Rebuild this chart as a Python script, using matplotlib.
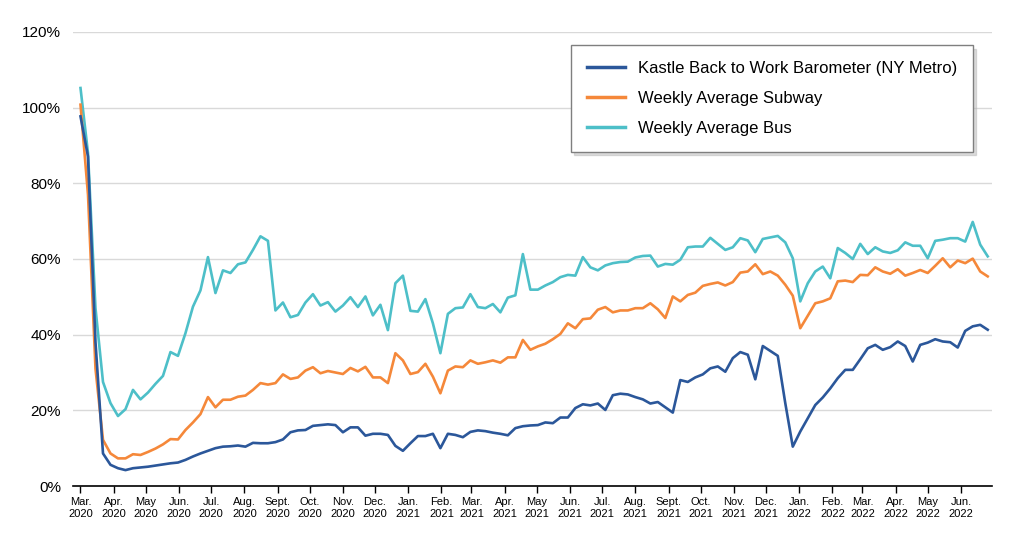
import pandas as pd
import matplotlib
matplotlib.use("Agg")
import matplotlib.pyplot as plt
from matplotlib.ticker import FuncFormatter

# weekly values, % of pre-pandemic level
kastle = [97.7, 87.1, 38, 8.6, 5.6, 4.7, 4.2, 4.7, 4.9, 5.1, 5.4, 5.7, 6.0, 6.2, 6.9, 7.8,
          8.6, 9.3, 10.0, 10.4, 10.5, 10.7, 10.4, 11.4, 11.3, 11.3, 11.6, 12.3, 14.2, 14.7,
          14.8, 15.9, 16.1, 16.3, 16.1, 14.2, 15.5, 15.5, 13.3, 13.8, 13.8, 13.5, 10.6, 9.3,
          11.3, 13.2, 13.2, 13.8, 10.0, 13.8, 13.5, 12.9, 14.3, 14.7, 14.5, 14.1, 13.8, 13.4,
          15.3, 15.8, 16.0, 16.1, 16.8, 16.6, 18.1, 18.1, 20.6, 21.6, 21.3, 21.8, 20.1, 24.0,
          24.4, 24.2, 23.5, 22.9, 21.8, 22.2, 20.8, 19.4, 28.0, 27.5, 28.7, 29.5, 31.1, 31.6,
          30.2, 33.8, 35.4, 34.7, 28.2, 37.0, 35.7, 34.4, 21.9, 10.4, 14.4, 17.9, 21.4, 23.4,
          25.8, 28.5, 30.7, 30.7, 33.5, 36.4, 37.3, 36.0, 36.7, 38.2, 37.0, 32.9, 37.3, 37.9,
          38.8, 38.2, 38.0, 36.6, 41.0, 42.2, 42.6, 41.3]
subway = [100.8, 77, 31, 12.2, 8.6, 7.3, 7.3, 8.4, 8.2, 9.0, 9.9, 11.0, 12.4, 12.3, 14.8, 16.8,
          19.0, 23.5, 20.8, 22.8, 22.8, 23.6, 23.9, 25.4, 27.2, 26.8, 27.2, 29.5, 28.3, 28.7,
          30.5, 31.4, 29.8, 30.4, 30.0, 29.6, 31.2, 30.3, 31.5, 28.7, 28.7, 27.2, 35.1, 33.2,
          29.6, 30.1, 32.3, 28.9, 24.5, 30.5, 31.6, 31.4, 33.2, 32.3, 32.7, 33.2, 32.6, 34.0,
          34.0, 38.6, 36.0, 36.9, 37.6, 38.8, 40.2, 43.0, 41.7, 44.1, 44.3, 46.6, 47.3, 45.9,
          46.4, 46.4, 47.0, 47.0, 48.3, 46.7, 44.4, 50.1, 48.8, 50.5, 51.1, 52.9, 53.4, 53.8,
          53.0, 53.9, 56.4, 56.7, 58.6, 56.0, 56.7, 55.6, 53.2, 50.3, 41.7, 45.0, 48.3, 48.8,
          49.6, 54.1, 54.3, 53.9, 55.8, 55.7, 57.8, 56.7, 56.1, 57.3, 55.6, 56.3, 57.1, 56.3,
          58.2, 60.2, 57.8, 59.6, 58.9, 60.1, 56.7, 55.4]
bus = [105.2, 88, 47, 27.5, 21.9, 18.5, 20.3, 25.4, 22.9, 24.7, 27.0, 29.1, 35.4, 34.4, 40.4,
       47.4, 51.7, 60.5, 51.0, 57.0, 56.3, 58.6, 59.1, 62.4, 66.0, 64.8, 46.4, 48.5, 44.6, 45.2,
       48.5, 50.7, 47.7, 48.6, 46.1, 47.7, 49.9, 47.3, 50.1, 45.1, 47.9, 41.2, 53.6, 55.6, 46.3,
       46.1, 49.4, 43.0, 35.1, 45.5, 47.0, 47.2, 50.7, 47.3, 47.0, 48.1, 45.9, 49.8, 50.4, 61.3,
       51.9, 51.9, 53.0, 53.9, 55.2, 55.8, 55.6, 60.5, 57.8, 57.0, 58.3, 58.9, 59.2, 59.3, 60.4,
       60.8, 60.9, 58.0, 58.7, 58.5, 59.8, 63.1, 63.3, 63.3, 65.6, 64.0, 62.4, 63.1, 65.5, 64.9,
       61.8, 65.3, 65.7, 66.1, 64.4, 60.2, 48.8, 53.6, 56.7, 58.0, 54.9, 62.9, 61.6, 60.0, 64.0,
       61.3, 63.1, 62.0, 61.6, 62.3, 64.4, 63.5, 63.5, 60.2, 64.8, 65.1, 65.5, 65.5, 64.6, 69.8,
       63.8, 60.7]

labels = ["Kastle Back to Work Barometer (NY Metro)", "Weekly Average Subway", "Weekly Average Bus"]
colors = ["#2b579a", "#f5883a", "#4dbfc8"]
month_names = ["Jan.", "Feb.", "Mar.", "Apr.", "May", "Jun.", "Jul.", "Aug.",
               "Sept.", "Oct.", "Nov.", "Dec."]

weeks = pd.date_range("2020-03-01", periods=len(kastle), freq="7D")
month_ticks = pd.date_range("2020-03-01", "2022-06-01", freq="MS")
tick_labels = [f"{month_names[d.month - 1]}\n{d.year}" for d in month_ticks]

plt.rcParams["font.family"] = ["Liberation Sans", "DejaVu Sans"]

fig = plt.figure(figsize=(10.26, 5.38), dpi=100)
ax = fig.add_axes([73 / 1026, 1 - 486 / 538, 919 / 1026, 454 / 538])

series = [kastle, subway, bus]
z = [4, 3, 2]
handles = []
for vals, lab, col, zo in zip(series, labels, colors, z):
    h, = ax.plot(weeks, [v / 100 for v in vals], color=col, lw=1.9, label=lab, zorder=zo)
    handles.append(h)

ax.set_ylim(0, 1.2)
ax.set_yticks([0, 0.2, 0.4, 0.6, 0.8, 1.0, 1.2])
ax.yaxis.set_major_formatter(FuncFormatter(lambda v, p: f"{v * 100:.0f}%"))
ax.set_xlim(weeks[0] - pd.Timedelta(days=7), weeks[-1] + pd.Timedelta(days=4))
ax.set_xticks(month_ticks)
ax.set_xticklabels(tick_labels, fontsize=8, linespacing=1.2)

ax.grid(axis="y", color="#d9d9d9", lw=1)
ax.set_axisbelow(True)
for s in ["left", "right", "top"]:
    ax.spines[s].set_visible(False)
ax.spines["bottom"].set_color("black")
ax.spines["bottom"].set_linewidth(1.2)
ax.tick_params(axis="y", length=0, labelsize=11, pad=8.5)
ax.tick_params(axis="x", length=5, width=1, color="black", pad=3)

leg = ax.legend(handles=handles, loc="upper right", bbox_to_anchor=(0.979, 0.971),
                prop={"size": 12}, frameon=True, fancybox=False,
                shadow={"color": "0.7", "alpha": 0.45, "ox": 2.5, "oy": -2.5},
                edgecolor="#7f7f7f", handlelength=2.3, handletextpad=0.75,
                borderpad=0.95, labelspacing=0.9, borderaxespad=0)
leg.get_frame().set_linewidth(1)
for l in leg.get_lines():
    l.set_linewidth(2.5)

fig.savefig("out.png", dpi=100)
